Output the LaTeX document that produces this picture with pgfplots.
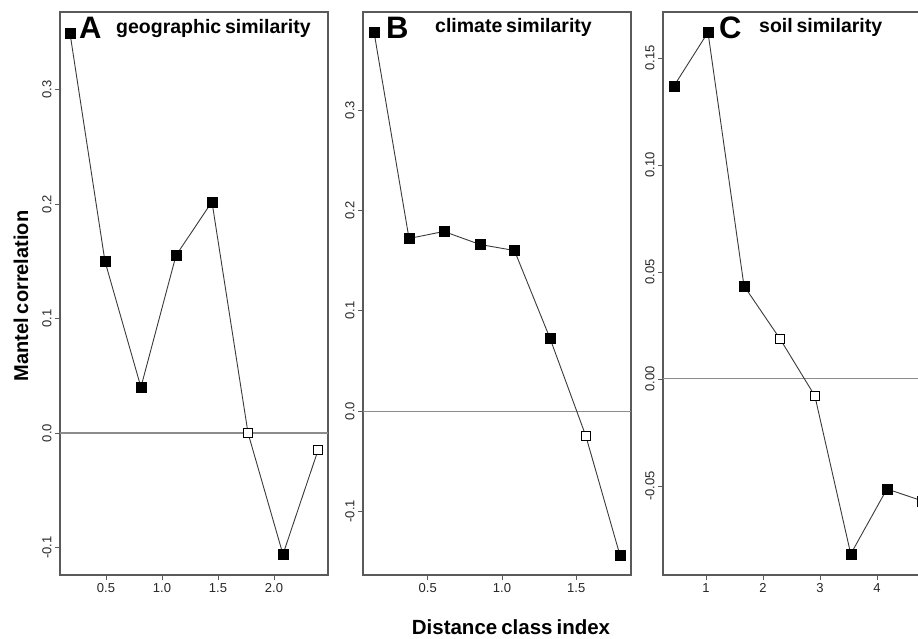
\documentclass[border=0pt]{standalone}
\usepackage{pgfplots}
\pgfplotsset{compat=1.18}
\usepackage{fontspec}
\setmainfont{Liberation Sans}[WordSpace=0.7]
\definecolor{framecol}{HTML}{5A5A5A}
\definecolor{segcol}{HTML}{3A3A3A}
\definecolor{zerocol}{HTML}{8C8C8C}
\pgfplotsset{
  mc/.style={
    scale only axis, anchor=south west,
    width=268pt, height=563pt,
    axis line style={framecol, line width=1.2pt},
    tick align=outside, major tick length=5pt,
    xtick pos=bottom, ytick pos=left,
    tick style={framecol, line width=0.9pt},
    minor tick num=0,
    ticklabel style={font=\fontsize{13}{15}\selectfont, color=black!85},
    yticklabel style={rotate=90, anchor=south},
    /pgf/number format/assume math mode=true,
    /pgf/number format/fixed,
    /pgf/number format/fixed zerofill,
    /pgf/number format/precision=1,
    scaled ticks=false,
    clip=false,
  },
  segline/.style={segcol, line width=0.9pt, no marks},
  fullmk/.style={only marks, mark=square*, mark size=5pt, mark options={fill=black, draw=black}},
  openmk/.style={only marks, mark=square*, mark size=4.6pt, mark options={fill=white, draw=black, line width=0.9pt}},
}
\begin{document}
\begin{tikzpicture}
\path[use as bounding box] (0,0) rectangle (918pt,639pt);
% Panel A
\begin{axis}[mc, at={(60pt,64pt)},
  xmin=0.0896, xmax=2.482, ymin=-0.124, ymax=0.3677,
  xtick={0.5,1.0,1.5,2.0}, ytick={-0.1,0,0.1,0.2,0.3}]
\addplot[zerocol, line width=1.8pt, no marks, forget plot] coordinates {(0.0896,0) (2.482,0)};
\addplot[segline] coordinates {(0.179,0.349) (0.491,0.150) (0.812,0.040) (1.125,0.155) (1.446,0.202) (1.768,0.000) (2.080,-0.106) (2.393,-0.015)};
\addplot[fullmk] coordinates {(0.179,0.349) (0.491,0.150) (0.812,0.040) (1.125,0.155) (1.446,0.202) (2.080,-0.106)};
\addplot[openmk] coordinates {(1.768,0.000) (2.393,-0.015)};
\end{axis}
% Panel B
\begin{axis}[mc, at={(363pt,64pt)},
  xmin=0.064, xmax=1.869, ymin=-0.1635, ymax=0.3978,
  xtick={0.5,1.0,1.5}, ytick={-0.1,0,0.1,0.2,0.3}]
\addplot[zerocol, line width=1pt, no marks, forget plot] coordinates {(0.064,0) (1.869,0)};
\addplot[segline] coordinates {(0.138,0.378) (0.374,0.172) (0.609,0.179) (0.852,0.166) (1.084,0.160) (1.322,0.073) (1.565,-0.025) (1.795,-0.144)};
\addplot[fullmk] coordinates {(0.138,0.378) (0.374,0.172) (0.609,0.179) (0.852,0.166) (1.084,0.160) (1.322,0.073) (1.795,-0.144)};
\addplot[openmk] coordinates {(1.565,-0.025)};
\end{axis}
% Panel C
\begin{axis}[mc, at={(663pt,64pt)},
  xmin=0.246, xmax=4.948, ymin=-0.0916, ymax=0.1715,
  xtick={1,2,3,4}, ytick={-0.05,0,0.05,0.10,0.15},
  xticklabel style={/pgf/number format/precision=0, /pgf/number format/fixed zerofill=false},
  yticklabel style={/pgf/number format/precision=2}]
\addplot[zerocol, line width=1pt, no marks, forget plot] coordinates {(0.246,0) (4.948,0)};
\addplot[segline] coordinates {(0.44,0.137) (1.035,0.162) (1.667,0.0435) (2.30,0.0187) (2.91,-0.0079) (3.54,-0.0818) (4.175,-0.0514) (4.80,-0.057)};
\addplot[fullmk] coordinates {(0.44,0.137) (1.035,0.162) (1.667,0.0435) (3.54,-0.0818) (4.175,-0.0514) (4.80,-0.057)};
\addplot[openmk] coordinates {(2.30,0.0187) (2.91,-0.0079)};
\end{axis}
% Titles
\node[anchor=base west, inner sep=0, font=\fontsize{31}{34}\selectfont\bfseries] at (79pt,600pt) {A};
\node[anchor=base west, inner sep=0, font=\fontsize{19.5}{22}\selectfont\bfseries] at (116pt,605pt) {geographic similarity};
\node[anchor=base west, inner sep=0, font=\fontsize{31}{34}\selectfont\bfseries] at (386pt,600pt) {B};
\node[anchor=base west, inner sep=0, font=\fontsize{19.5}{22}\selectfont\bfseries] at (435pt,606pt) {climate similarity};
\node[anchor=base west, inner sep=0, font=\fontsize{31}{34}\selectfont\bfseries] at (719pt,600pt) {C};
\node[anchor=base west, inner sep=0, font=\fontsize{19.5}{22}\selectfont\bfseries] at (759pt,606pt) {soil similarity};
% Axis labels
\node[rotate=90, anchor=base, inner sep=0, font=\fontsize{20}{22}\selectfont\bfseries] at (28pt,343pt) {Mantel correlation};
\node[anchor=base, inner sep=0, font=\fontsize{20.5}{22}\selectfont\bfseries] at (511pt,4pt) {Distance class index};
\end{tikzpicture}
\end{document}
